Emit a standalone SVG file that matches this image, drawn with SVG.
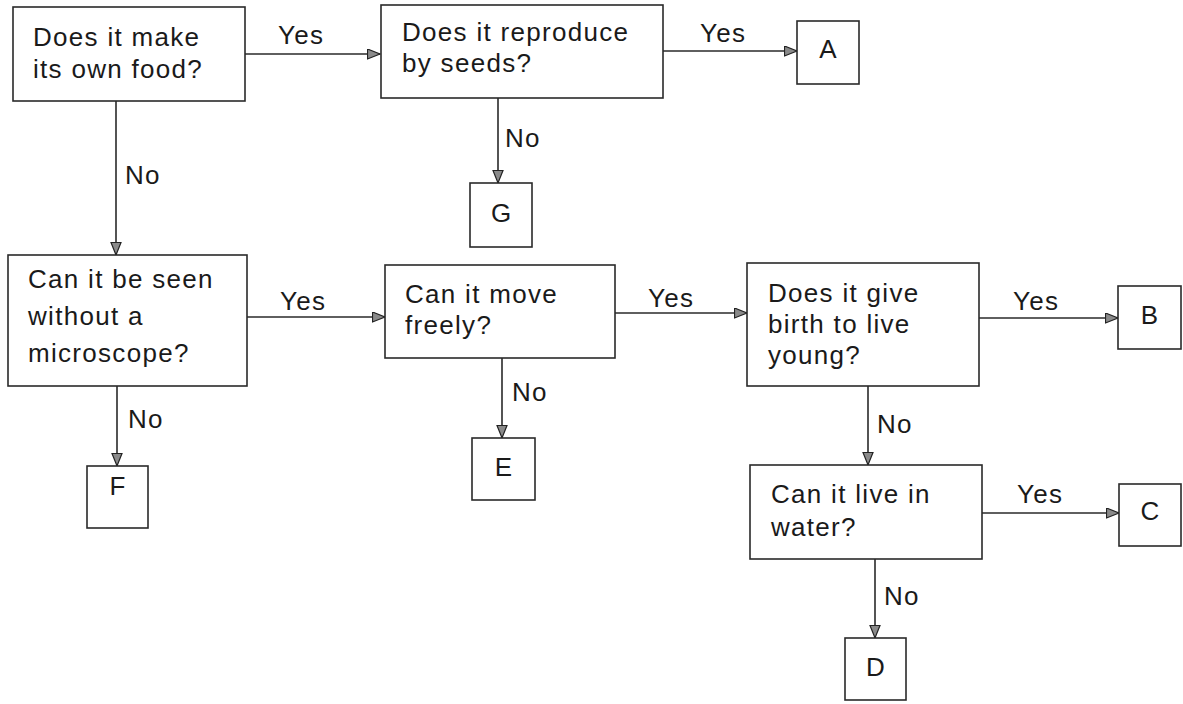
<svg xmlns="http://www.w3.org/2000/svg" width="1183" height="704" viewBox="0 0 1183 704">
<style>
rect{fill:#fff;stroke:#2a2a2a;stroke-width:1.6}
text{font-family:"Liberation Sans",Arial,sans-serif;font-size:26px;fill:#1a1a1a;letter-spacing:1.3px}
.c{text-anchor:middle;letter-spacing:0}
#connectors path{fill:none;stroke:#2a2a2a;stroke-width:1.6;marker-end:url(#arr)}
</style>
<defs>
<marker id="arr" markerUnits="userSpaceOnUse" markerWidth="15" markerHeight="12" refX="13" refY="5.5" orient="auto">
<path d="M0.5,0.5 L13,5.5 L0.5,10.5 z" fill="#8a8a8a" stroke="#222" stroke-width="1.2"/>
</marker>
</defs>
<rect x="0" y="0" width="1183" height="704" style="stroke:none"/>
<g id="connectors">
<path d="M245,54 H380"/>
<path d="M663,51 H797"/>
<path d="M498,98 V183"/>
<path d="M116,101 V255"/>
<path d="M247,317 H385"/>
<path d="M117,386 V466"/>
<path d="M615,313 H747"/>
<path d="M502,358 V438"/>
<path d="M979,318 H1118"/>
<path d="M868,386 V465"/>
<path d="M982,513 H1119"/>
<path d="M875,559 V638"/>
<text x="278" y="44">Yes</text>
<text x="700" y="42">Yes</text>
<text x="505" y="147">No</text>
<text x="125" y="184">No</text>
<text x="280" y="310">Yes</text>
<text x="128" y="428">No</text>
<text x="648" y="307">Yes</text>
<text x="512" y="401">No</text>
<text x="1013" y="310">Yes</text>
<text x="877" y="433">No</text>
<text x="1017" y="503">Yes</text>
<text x="884" y="605">No</text>
</g>
<g id="q1"><rect x="13" y="7" width="232" height="94"/><text x="33" y="46">Does it make</text><text x="33" y="78">its own food?</text></g>
<g id="q2"><rect x="381" y="5" width="282" height="93"/><text x="402" y="41">Does it reproduce</text><text x="402" y="72">by seeds?</text></g>
<g id="A"><rect x="797" y="21" width="62" height="63"/><text class="c" x="828" y="58">A</text></g>
<g id="G"><rect x="470" y="183" width="62" height="64"/><text class="c" x="501" y="222">G</text></g>
<g id="q3"><rect x="8" y="255" width="239" height="131"/><text x="28" y="288">Can it be seen</text><text x="28" y="325">without a</text><text x="28" y="362">microscope?</text></g>
<g id="F"><rect x="87" y="466" width="61" height="62"/><text class="c" x="117.5" y="495">F</text></g>
<g id="q4"><rect x="385" y="265" width="230" height="93"/><text x="405" y="303">Can it move</text><text x="405" y="334">freely?</text></g>
<g id="E"><rect x="472" y="438" width="63" height="62"/><text class="c" x="503.5" y="476">E</text></g>
<g id="q5"><rect x="747" y="263" width="232" height="123"/><text x="768" y="302">Does it give</text><text x="768" y="333">birth to live</text><text x="768" y="364">young?</text></g>
<g id="B"><rect x="1118" y="286" width="63" height="63"/><text class="c" x="1149.5" y="324">B</text></g>
<g id="q6"><rect x="750" y="465" width="232" height="94"/><text x="771" y="503">Can it live in</text><text x="771" y="536">water?</text></g>
<g id="C"><rect x="1119" y="484" width="62" height="62"/><text class="c" x="1150" y="520">C</text></g>
<g id="D"><rect x="845" y="638" width="61" height="62"/><text class="c" x="875.5" y="676">D</text></g>
</svg>
